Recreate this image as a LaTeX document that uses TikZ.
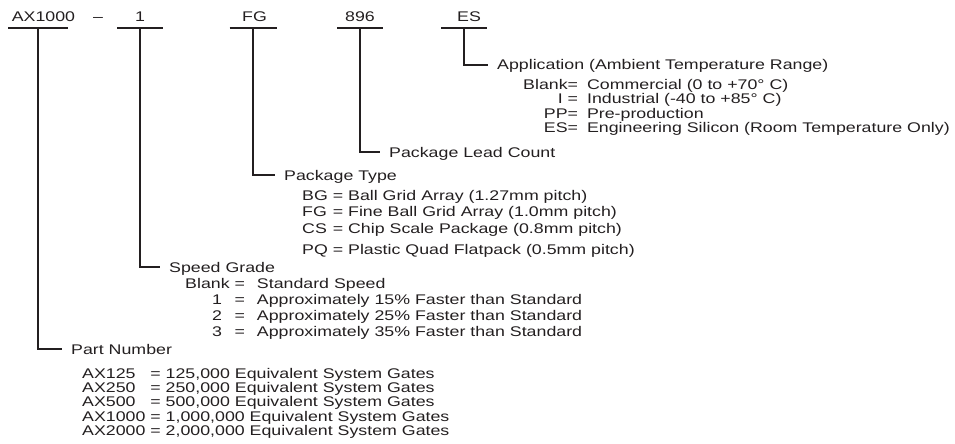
\documentclass[tikz,border=0pt]{standalone}
\usepackage{fontspec}
\setmainfont{Liberation Sans}[FakeStretch=1.27]
\usepackage{tikz}
\usetikzlibrary{calc}
\definecolor{codeink}{RGB}{35, 31, 32}

\begin{document}
\begin{tikzpicture}[x=1pt, y=-1pt,
    fieldtxt/.style={font=\fontsize{14}{15}\selectfont, text=codeink, inner sep=0pt, anchor=base},
    headtxt/.style={font=\fontsize{14}{15}\selectfont, text=codeink, anchor=west, inner ysep=0pt, inner xsep=9pt, text height=10pt, text depth=0pt},
    listtxt/.style={font=\fontsize{14}{#1}\selectfont, text=codeink, inner sep=0pt, anchor=base west},
    leadline/.style={line width=1.6pt, draw=codeink}]
			\useasboundingbox (0,0) rectangle (955,444);

			% Ordering code fields
			\node[fieldtxt] (pn) at (43.5,22) {AX1000};
			\node[fieldtxt] (dash) at (98,22) {–};
			\node[fieldtxt] (sg) at (140,22) {1};
			\node[fieldtxt] (pt) at (254.5,22) {FG};
			\node[fieldtxt] (lc) at (360,22) {896};
			\node[fieldtxt] (ap) at (469,22) {ES};

			% Bars under the fields
			\foreach \f/\x/\w in {pn/38/30, sg/140/23, pt/253/23.5, lc/360/23, ap/464/23} {
				\coordinate (\f bar) at (\x,28);
				\draw[leadline] ($(\f bar)+(-\w,0)$) -- ($(\f bar)+(\w,0)$);
			}

			% Field headings
			\node[headtxt] (aphead) at (488,65) {Application (Ambient Temperature Range)};
			\node[headtxt] (lchead) at (380,152) {Package Lead Count};
			\node[headtxt] (pthead) at (275,175) {Package Type};
			\node[headtxt] (sghead) at (160,267) {Speed Grade};
			\node[headtxt] (pnhead) at (62,349) {Part Number};

			% Leads from the bars to the headings
			\draw[leadline] (apbar) |- (aphead.west);
			\draw[leadline] (lcbar) |- (lchead.west);
			\draw[leadline] (ptbar) |- (pthead.west);
			\draw[leadline] (sgbar) |- (sghead.west);
			\draw[leadline] (pnbar) |- (pnhead.west);

			% Value lists
			\node[listtxt=14.5] (aplist) at (523,89) {\begin{tabular}[t]{@{}r@{\hspace{9pt}}l@{}}
				Blank= & Commercial (0 to +70° C)\\
				I = & Industrial (-40 to +85° C)\\
				PP= & Pre-production\\
				ES= & Engineering Silicon (Room Temperature Only)
			\end{tabular}};
			\node[listtxt=16.5] (ptlist) at (302,200) {\begin{tabular}[t]{@{}l@{ }l@{}}
				BG & = Ball Grid Array (1.27mm pitch)\\
				FG & = Fine Ball Grid Array (1.0mm pitch)\\
				CS & = Chip Scale Package (0.8mm pitch)\\[4.5pt]
				PQ & = Plastic Quad Flatpack (0.5mm pitch)
			\end{tabular}};
			\node[listtxt=16] (sglist) at (185,288) {\begin{tabular}[t]{@{}l@{ }l@{\hspace{12pt}}l@{}}
				Blank & = & Standard Speed\\
				\hspace{27pt}1 & = & Approximately 15\% Faster than Standard\\
				\hspace{27pt}2 & = & Approximately 25\% Faster than Standard\\
				\hspace{27pt}3 & = & Approximately 35\% Faster than Standard
			\end{tabular}};
			\node[listtxt=14] (pnlist) at (82,378) {\begin{tabular}[t]{@{}l@{ }l@{}}
				AX125 & = 125,000 Equivalent System Gates\\
				AX250 & = 250,000 Equivalent System Gates\\
				AX500 & = 500,000 Equivalent System Gates\\
				AX1000 & = 1,000,000 Equivalent System Gates\\
				AX2000 & = 2,000,000 Equivalent System Gates
			\end{tabular}};

		\end{tikzpicture}
\end{document}
